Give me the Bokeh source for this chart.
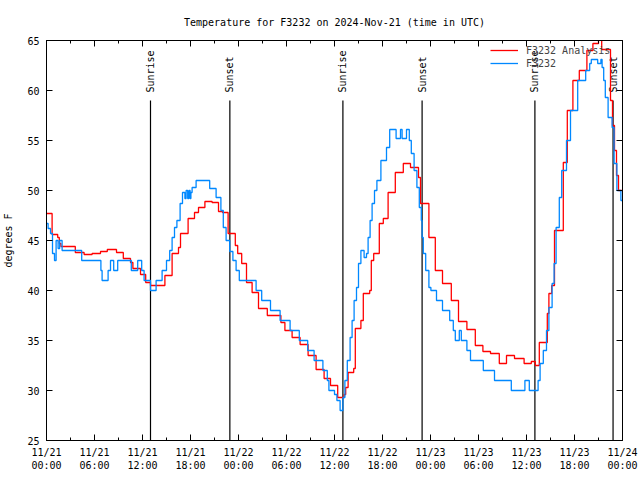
import math
from bokeh.plotting import figure
from bokeh.models import Range1d, FixedTicker, LinearAxis, Legend
from bokeh.core.properties import value
from bokeh.embed import file_html
from bokeh.resources import INLINE

chart_title = "Temperature for F3232 on 2024-Nov-21 (time in UTC)"
y_label = "degrees F"

# hours since 2024-11-21 00:00 UTC
analysis_hours = [0.0, 0.7, 1.4, 1.6, 1.8, 3.6, 4.7, 5.7, 6.75, 7.6, 8.75, 9.6, 10.5, 10.8, 11.75, 12.4,
                  13.0, 14.8, 15.7, 16.5, 16.75, 17.7, 18.5, 19.0, 19.8, 20.7, 21.5, 22.0, 22.7, 23.6,
                  23.9, 24.4, 25.0, 25.7, 26.5, 27.6, 29.3, 29.8, 30.7, 31.7, 32.7, 33.7, 34.7, 35.5,
                  36.4, 37.2, 37.4, 37.7, 38.4, 38.6, 39.3, 39.6, 40.4, 40.6, 40.9, 41.6, 42.1, 42.7,
                  43.6, 44.6, 45.5, 46.5, 46.75, 47.8, 48.6, 49.5, 50.6, 51.5, 52.55, 53.6, 54.55, 55.5,
                  56.6, 57.5, 58.5, 59.7, 60.6, 61.1, 61.6, 62.6, 62.8, 63.15, 63.5, 64.6, 65.1, 65.8,
                  66.6, 67.55, 68.3, 69.0, 69.4, 70.5, 70.75, 71.0, 71.25, 71.5, 72.0]
analysis_temps = [47.7, 45.6, 45.3, 44.7, 44.4, 43.8, 43.6, 43.7, 43.9, 44.1, 43.8, 43.2, 42.8, 42.2, 41.6, 40.8,
                  40.5, 41.5, 43.7, 44.3, 45.7, 47.2, 47.8, 48.3, 48.9, 48.8, 47.9, 47.8, 45.7, 44.5,
                  43.7, 42.7, 40.8, 39.8, 38.2, 37.5, 36.8, 36.0, 35.3, 34.6, 33.5, 32.1, 31.2, 30.5,
                  29.3, 29.6, 30.3, 31.8, 32.2, 36.2, 37.0, 39.7, 40.0, 43.0, 43.7, 46.7, 47.2, 49.8,
                  51.8, 52.7, 52.3, 51.3, 48.7, 45.3, 42.0, 40.7, 39.0, 36.9, 36.1, 34.5, 33.9, 33.7,
                  32.7, 33.5, 33.2, 32.7, 32.9, 32.5, 34.8, 37.7, 39.7, 40.5, 46.0, 52.8, 58.0, 61.0,
                  62.0, 64.0, 64.7, 65.6, 64.1, 59.0, 56.5, 54.0, 51.5, 50.0, 50.0]

station_hours = [0.0, 0.2, 0.5, 0.75, 1.0, 1.2, 1.45, 1.65, 1.95, 4.4,
                 6.8, 6.95, 7.7, 8.0, 8.4, 8.9, 10.6, 11.4, 11.9, 12.2,
                 13.0, 13.7, 14.45, 15.0, 15.4, 15.7, 16.0, 16.3, 16.7, 17.0,
                 17.3, 17.45, 17.65, 17.8, 17.95, 18.05, 18.2, 18.7, 20.4, 21.2,
                 21.8, 22.1, 22.45, 22.9, 23.3, 23.7, 24.1, 26.2, 26.9, 28.0,
                 29.2, 30.45, 31.6, 32.65, 33.45, 34.55, 35.1, 35.3, 36.0, 36.3,
                 36.7, 37.05, 37.3, 37.6, 37.95, 38.2, 38.45, 38.75, 39.0, 39.3,
                 39.7, 40.0, 40.2, 40.45, 40.7, 41.0, 41.3, 41.8, 42.5, 42.9,
                 43.7, 44.25, 44.45, 45.0, 45.35, 45.6, 45.95, 46.3, 46.6, 46.85,
                 46.95, 47.1, 47.4, 47.8, 48.05, 48.75, 49.5, 50.4, 50.85, 51.1,
                 51.6, 51.85, 52.55, 53.0, 54.6, 56.0, 58.1, 59.8, 60.35, 61.45,
                 61.7, 62.1, 62.5, 62.8, 63.2, 63.45, 63.7, 64.1, 64.4, 65.0,
                 65.5, 66.4, 67.4, 67.9, 68.1, 68.9, 69.3, 69.45, 69.65, 69.85,
                 70.2, 70.7, 70.95, 71.3, 71.8, 72.0]
station_temps = [46.7, 46.2, 45.7, 43.7, 43.0, 45.0, 44.2, 45.0, 44.0, 43.0,
                 42.0, 41.0, 42.0, 43.0, 42.0, 43.0, 42.0, 43.0, 42.0, 41.0,
                 40.0, 41.0, 42.0, 43.0, 44.0, 45.3, 46.3, 47.0, 48.7, 49.8,
                 49.2, 50.0, 49.2, 50.0, 49.2, 49.8, 50.3, 51.0, 50.2, 49.3,
                 48.0, 46.3, 45.0, 43.9, 43.0, 42.0, 41.0, 40.0, 39.0, 38.0,
                 37.0, 36.0, 35.0, 34.0, 33.0, 32.0, 31.0, 30.0, 29.6, 29.0,
                 28.0, 29.3, 31.0, 33.0, 35.3, 37.0, 39.0, 40.3, 42.7, 44.0,
                 43.3, 43.7, 45.3, 47.0, 48.7, 50.0, 51.0, 53.0, 54.3, 56.1,
                 55.2, 56.1, 55.2, 56.1, 55.0, 53.7, 52.0, 50.3, 48.3, 47.0,
                 45.3, 43.7, 42.0, 40.3, 40.0, 39.0, 38.0, 37.0, 36.0, 35.0,
                 36.0, 35.0, 34.0, 33.0, 32.0, 31.0, 30.0, 31.0, 30.0, 31.0,
                 32.7, 34.0, 36.0, 38.3, 40.7, 42.7, 46.3, 49.3, 52.0, 55.0,
                 58.0, 61.0, 62.0, 62.7, 63.1, 62.7, 63.1, 62.3, 61.0, 59.3,
                 57.3, 56.3, 52.7, 50.0, 49.0, 49.0]

event_hours = [13.0, 22.92, 37.05, 46.95, 61.05, 70.82]
event_names = ["Sunrise", "Sunset", "Sunrise", "Sunset", "Sunrise", "Sunset"]

x_tick_hours = [0, 6, 12, 18, 24, 30, 36, 42, 48, 54, 60, 66, 72]
x_tick_labels = ["11/21\n00:00", "11/21\n06:00", "11/21\n12:00", "11/21\n18:00",
                 "11/22\n00:00", "11/22\n06:00", "11/22\n12:00", "11/22\n18:00",
                 "11/23\n00:00", "11/23\n06:00", "11/23\n12:00", "11/23\n18:00",
                 "11/24\n00:00"]
x_minor_hours = [h + 3 for h in x_tick_hours[:-1]]
y_ticks = [25, 30, 35, 40, 45, 50, 55, 60, 65]

series_names = ["F3232 Analysis", "F3232"]
series_colors = ["#ff0000", "#0088ff"]

FONT = "DejaVu Sans Mono"
FS = "10px"

p = figure(width=640, height=480, output_backend="svg", toolbar_location=None,
           x_range=Range1d(0, 72), y_range=Range1d(25, 65), title=chart_title,
           min_border_left=46, min_border_right=18, min_border_top=40, min_border_bottom=40)
p.background_fill_color = "white"
p.border_fill_color = "white"
p.outline_line_color = "black"
p.outline_line_width = 1
p.xgrid.visible = False
p.ygrid.visible = False

p.title.align = "center"
p.title.text_font = FONT
p.title.text_font_size = FS
p.title.text_font_style = "normal"
p.title.text_color = "black"
p.title.standoff = 25

def style_axis(ax, show_labels=True):
    ax.axis_line_color = "black"
    ax.major_tick_line_color = "black"
    ax.minor_tick_line_color = "black"
    ax.major_tick_in = 6
    ax.major_tick_out = 0
    ax.minor_tick_in = 3
    ax.minor_tick_out = 0
    ax.major_label_text_font = FONT
    ax.major_label_text_font_size = FS
    ax.major_label_text_color = "black" if show_labels else None

xt = FixedTicker(ticks=x_tick_hours, minor_ticks=x_minor_hours)
yt = FixedTicker(ticks=y_ticks, minor_ticks=[])

p.xaxis.ticker = xt
p.xaxis.major_label_overrides = {h: lab for h, lab in zip(x_tick_hours, x_tick_labels)}
p.xaxis.major_label_standoff = 6
style_axis(p.xaxis[0])
p.yaxis.ticker = yt
p.yaxis.major_label_standoff = 7
style_axis(p.yaxis[0])
p.yaxis.axis_label = y_label
p.yaxis.axis_label_text_font = FONT
p.yaxis.axis_label_text_font_size = FS
p.yaxis.axis_label_text_font_style = "normal"
p.yaxis.axis_label_text_color = "black"
p.yaxis.axis_label_standoff = 10

top_ax = LinearAxis(ticker=FixedTicker(ticks=x_tick_hours, minor_ticks=x_minor_hours), major_label_standoff=0)
style_axis(top_ax, False)
p.add_layout(top_ax, "above")
right_ax = LinearAxis(ticker=FixedTicker(ticks=y_ticks, minor_ticks=[]), major_label_standoff=0)
style_axis(right_ax, False)
p.add_layout(right_ax, "right")

# sunrise / sunset markers
p.segment(x0=event_hours, y0=25, x1=event_hours, y1=59.0, line_color="black", line_width=1.2)
p.text(x=event_hours, y=59.8, text=event_names, angle=math.pi / 2, text_align="left",
       text_baseline="middle", text_font=value(FONT), text_font_size=FS, text_color="black")

r_an = p.step(analysis_hours, analysis_temps, mode="after", line_color=series_colors[0], line_width=1.3)
r_st = p.step(station_hours, station_temps, mode="after", line_color=series_colors[1], line_width=1.3)

legend = Legend(items=[(series_names[0], [r_an]), (series_names[1], [r_st])],
                location=(442, 369), background_fill_alpha=0, border_line_alpha=0,
                label_text_font=FONT, label_text_font_size=FS, glyph_width=28, glyph_height=12,
                label_height=12, spacing=1, padding=2, margin=0, label_standoff=8)
p.add_layout(legend)

open("out.html", "w").write(file_html(p, INLINE))
